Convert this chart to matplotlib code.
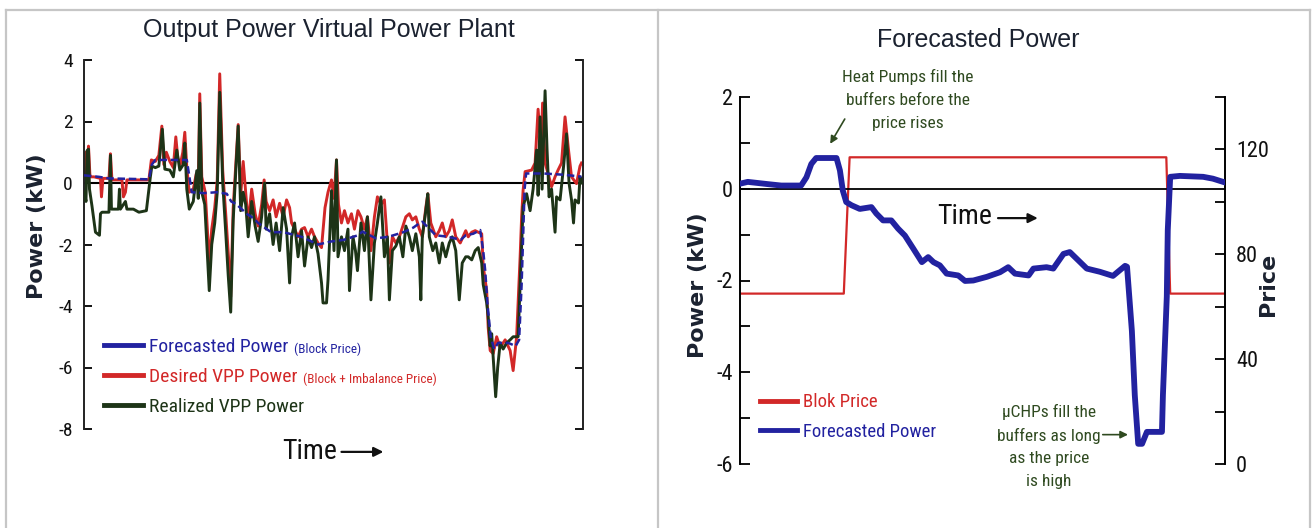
import matplotlib
matplotlib.use("Agg")
import matplotlib.pyplot as plt
from matplotlib import font_manager
from matplotlib.lines import Line2D


def pick_font(*names):
    installed = {f.name for f in font_manager.fontManager.ttflist}
    for name in names:
        if name in installed:
            return name
    return "DejaVu Sans"


NARROW = pick_font("Liberation Sans Narrow", "Roboto Condensed", "Liberation Sans")
SANS = pick_font("Liberation Sans", "Arial")
WIDE = "DejaVu Sans"

plt.rcParams["axes.unicode_minus"] = False

# --- VPP output (left panel), time in % of the horizon, power in kW ---
fc_t = [0.0, 3.0, 5.0, 13.0, 13.6, 14.3, 20.6, 21.6, 24.0, 26.6,
        28.6, 29.5, 30.6, 31.6, 32.6, 34.0, 34.9, 37.5, 40.0, 43.6,
        46.9, 49.6, 52.0, 54.9, 55.8, 58.5, 61.0, 64.0, 66.0, 67.2,
        67.8, 70.5, 73.0, 75.5, 76.5, 78.0, 79.4, 80.0, 80.4, 80.9,
        81.5, 82.2, 83.0, 85.0, 86.5, 87.2, 87.7, 88.0, 88.3, 88.6,
        92.0, 96.0, 99.0, 99.7]
fc_kw = [0.25, 0.2, 0.15, 0.12, 0.6, 0.75, 0.75, -0.3, -0.33, -0.3,
         -0.35, -0.6, -0.7, -0.85, -1.0, -1.15, -1.3, -1.6, -1.6, -1.75,
         -2.0, -1.9, -1.85, -1.7, -1.58, -1.8, -1.75, -1.6, -1.45, -1.31,
         -1.26, -1.7, -1.75, -1.85, -1.7, -1.65, -1.53, -2.2, -2.85, -4.0,
         -5.0, -5.4, -5.2, -5.2, -5.3, -5.1, -3.3, -1.75, -0.2, 0.31,
         0.31, 0.27, 0.22, 0.2]

desired_t = [0.1, 0.4, 0.7, 0.9, 1.2, 2.0, 3.3, 3.5, 3.8, 5.0,
             5.3, 5.6, 7.6, 7.9, 8.3, 8.6, 13.0, 13.5, 14.3, 15.0,
             15.6, 16.0, 16.5, 17.2, 17.9, 18.4, 18.8, 19.3, 19.8, 20.2,
             20.6, 21.1, 21.9, 22.5, 22.9, 23.2, 23.6, 24.3, 25.1, 25.6,
             26.2, 26.7, 27.2, 27.8, 28.4, 29.0, 29.4, 29.9, 30.9, 31.4,
             31.9, 32.4, 32.9, 33.6, 34.3, 34.9, 35.6, 36.1, 36.5, 37.2,
             37.9, 38.5, 39.2, 39.9, 40.6, 41.2, 41.6, 42.2, 42.9, 43.6,
             44.2, 44.9, 45.6, 46.2, 46.9, 47.6, 48.3, 48.9, 49.6, 50.1,
             50.6, 51.0, 51.6, 52.2, 52.9, 53.6, 54.2, 54.9, 55.5, 56.2,
             56.8, 57.5, 58.2, 58.8, 59.5, 60.2, 60.8, 61.2, 61.8, 62.5,
             63.2, 64.5, 65.2, 65.8, 66.5, 67.2, 67.8, 68.5, 68.9, 69.5,
             70.5, 71.2, 71.8, 72.5, 73.2, 73.8, 74.5, 75.4, 76.5, 77.0,
             77.7, 78.4, 79.0, 79.7, 80.0, 80.7, 81.0, 81.4, 82.0, 82.7,
             83.4, 84.4, 85.4, 86.0, 86.7, 87.4, 87.7, 88.0, 88.4, 89.7,
             90.4, 91.0, 91.6, 91.9, 92.4, 93.0, 93.7, 94.4, 95.0, 95.7,
             96.4, 97.1, 97.7, 98.7, 99.4, 99.7]
desired_kw = [0.3, 1.0, 0.6, 1.2, 0.2, 0.2, 0.15, -0.45, 0.15, 0.15,
              0.95, 0.1, 0.1, -0.45, -0.3, 0.1, 0.1, 0.75, 0.7, 0.9,
              1.85, 0.6, 1.0, 0.7, 0.5, 1.5, 0.8, 0.6, 1.0, 1.65,
              0.5, -0.3, -0.2, 0.3, 0.0, 2.9, 0.2, -0.3, -2.6, -1.5,
              -0.8, 0.1, 3.55, 0.4, -1.0, -2.5, -3.7, -0.8, 1.9, -0.4,
              0.7, -0.3, -1.3, -0.2, -1.0, -1.4, -0.7, 0.1, -0.6, -0.9,
              -0.55, -1.1, -0.66, -1.1, -0.55, -0.8, -1.3, -1.5, -1.75, -1.5,
              -1.45, -1.75, -1.5, -1.75, -1.95, -2.1, -0.8, -0.3, 0.1, -0.5,
              0.75, -0.7, -1.3, -0.9, -1.3, -1.0, -1.5, -0.9, -1.1, -1.5,
              -1.1, -2.2, -1.1, -0.45, -0.7, -0.55, -1.95, -2.6, -1.75, -1.95,
              -1.75, -1.1, -1.0, -1.2, -1.1, -1.5, -1.75, -0.8, -0.35, -1.3,
              -1.75, -1.55, -1.3, -1.75, -1.55, -1.2, -1.75, -1.95, -1.55, -1.75,
              -1.6, -1.55, -1.6, -1.65, -2.7, -3.5, -4.7, -5.45, -5.55, -5.0,
              -5.35, -5.1, -5.45, -6.1, -5.0, -2.4, -1.1, -0.23, 0.37, 0.42,
              0.65, 2.4, 1.1, 2.6, 0.65, 0.31, -0.12, 0.2, 0.42, 0.65,
              2.15, 1.07, 0.2, -0.02, 0.55, 0.65]

realized_t = [0.1, 0.4, 0.6, 0.9, 1.1, 1.6, 2.3, 3.1, 3.3, 3.6,
              5.0, 5.3, 5.5, 6.9, 7.1, 7.3, 8.3, 8.6, 9.9, 11.0,
              12.5, 13.3, 13.6, 14.3, 15.0, 15.7, 16.2, 17.2, 17.9, 18.6,
              19.2, 19.9, 20.2, 20.6, 21.1, 21.9, 22.6, 22.9, 23.2, 23.6,
              24.2, 25.1, 25.6, 26.2, 26.7, 27.2, 27.8, 28.4, 28.9, 29.4,
              29.9, 30.9, 31.4, 31.9, 32.4, 32.9, 33.6, 34.3, 34.9, 35.6,
              36.2, 36.5, 37.2, 37.9, 38.5, 39.2, 39.9, 40.6, 41.2, 41.6,
              42.2, 42.9, 43.6, 44.2, 44.9, 45.6, 46.2, 46.9, 47.6, 47.9,
              48.6, 48.9, 49.2, 49.6, 50.1, 50.6, 50.9, 51.6, 52.2, 52.9,
              53.2, 53.9, 54.4, 54.8, 55.5, 56.2, 56.8, 57.5, 58.2, 58.8,
              59.5, 60.2, 60.8, 61.2, 61.8, 62.5, 63.2, 63.9, 64.5, 65.2,
              65.8, 66.5, 67.2, 67.5, 67.8, 68.5, 68.9, 69.2, 69.9, 70.5,
              71.2, 71.8, 72.5, 73.2, 73.8, 74.5, 75.2, 75.8, 76.5, 77.0,
              77.7, 78.4, 79.0, 79.7, 80.0, 80.7, 81.0, 81.4, 81.7, 82.2,
              82.5, 82.9, 83.4, 84.0, 84.7, 85.4, 86.0, 87.0, 87.4, 88.0,
              88.7, 89.4, 90.0, 90.7, 91.0, 91.4, 91.8, 92.4, 92.8, 93.2,
              93.7, 94.4, 94.7, 95.4, 96.1, 96.7, 97.2, 97.7, 98.1, 98.4,
              99.1, 99.4, 99.7]
realized_kw = [-0.3, -0.6, 1.05, 1.1, -0.2, -0.75, -1.6, -1.7, -1.0, -0.95,
               -0.95, 0.9, -0.85, -0.85, -0.2, -0.85, -0.6, -0.85, -0.85, -0.95,
               -0.9, 0.2, 0.55, 0.5, 0.55, 1.75, 0.45, 0.42, 0.2, 1.07,
               0.42, 0.6, 1.3, -0.2, -0.85, -0.6, 0.4, -0.5, 2.6, -0.3,
               -0.7, -3.5, -2.0, -1.3, -0.3, 2.95, 0.0, -1.6, -3.0, -4.2,
               -1.2, 1.85, -0.9, -0.3, -0.7, -1.75, -0.6, -1.4, -1.9, -1.1,
               0.0, -1.5, -1.0, -2.0, -1.3, -2.2, -0.8, -1.5, -3.25, -1.75,
               -1.3, -2.4, -1.55, -2.7, -1.75, -2.1, -1.75, -2.3, -3.25, -3.9,
               -3.9, -3.15, -1.95, -0.25, -2.2, 0.75, -2.4, -1.75, -2.2, -1.5,
               -3.5, -1.75, -2.2, -2.85, -1.3, -2.2, -1.1, -3.8, -1.95, -1.3,
               -0.45, -2.4, -1.75, -3.8, -2.2, -2.05, -1.75, -2.4, -1.4, -1.75,
               -2.2, -1.65, -2.4, -3.8, -1.75, -0.9, -0.35, -1.75, -2.2, -1.95,
               -2.6, -1.95, -2.4, -1.95, -1.75, -2.2, -3.8, -2.6, -2.4, -2.4,
               -2.5, -2.2, -2.1, -2.6, -3.3, -3.9, -4.35, -5.3, -4.9, -6.2,
               -6.95, -6.0, -5.2, -5.4, -5.2, -5.1, -5.0, -5.0, -3.3, -0.77,
               -0.35, -0.9, -0.2, 1.07, -0.4, 2.15, -0.2, 3.0, 1.07, -0.45,
               -0.2, -1.6, -0.45, -0.55, 0.53, 1.6, 0.0, -0.55, -1.3, -0.55,
               -0.65, 0.2, 0.0]

left_labels = ["Forecasted Power", "Desired VPP Power", "Realized VPP Power"]
left_notes = ["(Block Price)", "(Block + Imbalance Price)", ""]

# --- forecast vs. block price (right panel) ---
rp_t = [0.0, 1.6, 5.8, 8.5, 12.6, 13.7, 14.7, 15.7, 19.9, 20.6,
        21.2, 21.9, 23.0, 24.7, 27.1, 28.1, 29.5, 31.2, 32.6, 34.0,
        35.7, 37.5, 38.8, 39.9, 41.2, 42.6, 45.0, 46.4, 48.1, 50.9,
        53.6, 55.3, 56.7, 59.5, 60.5, 63.2, 64.6, 66.7, 68.0, 71.5,
        74.2, 76.9, 79.4, 79.8, 80.8, 81.4, 82.1, 82.9, 83.9, 87.0,
        87.2, 88.0, 88.2, 88.7, 90.7, 95.5, 97.5, 99.6]
rp_kw = [0.11, 0.15, 0.1, 0.07, 0.07, 0.25, 0.54, 0.67, 0.67, 0.4,
         -0.04, -0.29, -0.36, -0.44, -0.4, -0.54, -0.69, -0.69, -0.87, -1.02,
         -1.3, -1.6, -1.49, -1.6, -1.67, -1.85, -1.89, -2.01, -2.0, -1.92,
         -1.82, -1.71, -1.85, -1.89, -1.74, -1.71, -1.74, -1.42, -1.38, -1.74,
         -1.81, -1.9, -1.68, -1.7, -3.1, -4.5, -5.56, -5.56, -5.3, -5.3,
         -4.5, -2.35, -0.9, 0.26, 0.28, 0.26, 0.22, 0.15]

price_t = [0.0, 21.4, 22.6, 87.9, 88.7, 100.0]
price = [65, 65, 117, 117, 65, 65]

right_labels = ["Blok Price", "Forecasted Power"]

BLUE = "#2222a0"
RED = "#d22828"
GREEN = "#1d3417"
NOTE = "#2f4a20"
INK = "#1b2230"

W, H = 1314, 528
fig = plt.figure(figsize=(W / 100, H / 100), dpi=100)

# page frame around the two panels
for x in (6, 658, 1310):
    fig.add_artist(Line2D([x / W, x / W], [0, 1 - 10 / H], transform=fig.transFigure,
                          color="#c6c6c6", lw=1.6))
fig.add_artist(Line2D([6 / W, 1310 / W], [1 - 10 / H, 1 - 10 / H],
                      transform=fig.transFigure, color="#c6c6c6", lw=1.6))

# ---------------- left panel ----------------
ax1 = fig.add_axes([84 / W, 1 - 429 / H, 499 / W, 369 / H])
ax1.set_xlim(0, 100)
ax1.set_ylim(-8, 4)
ax1.axhline(0, color="black", lw=1.5, zorder=1)
ax1.plot(desired_t, desired_kw, color=RED, lw=2.1, zorder=2)
ax1.plot(realized_t, realized_kw, color=GREEN, lw=2.1, zorder=3)
ax1.plot(fc_t, fc_kw, color=BLUE, lw=1.8, ls=(0, (3, 1.5)), zorder=4)

for side in ("top", "bottom"):
    ax1.spines[side].set_visible(False)
for side in ("left", "right"):
    ax1.spines[side].set_linewidth(1.4)
    ax1.spines[side].set_color("#222222")
ax1.set_xticks([])
ax1.set_yticks([-8, -6, -4, -2, 0, 2, 4])
ax1.tick_params(axis="y", direction="in", length=6, width=1.3, left=True, right=True,
                labelsize=14, pad=8, labelcolor="#111111", labelfontfamily=NARROW)

ax1.set_ylabel("Power (kW)", fontsize=16, fontweight="bold", color=INK, family=WIDE)
ax1.yaxis.set_label_coords(-0.074, 0.55)
ax1.text(0.491, 1.081, "Output Power Virtual Power Plant", transform=ax1.transAxes,
         ha="center", va="center", fontsize=18, color=INK, family=SANS)

ax1.text(0.397, -0.062, "Time", transform=ax1.transAxes, ha="left", va="center",
         fontsize=20, family=NARROW, color="#111111")
ax1.annotate("", xy=(0.600, -0.062), xytext=(0.516, -0.062), xycoords="axes fraction",
             arrowprops=dict(arrowstyle="-|>", color="#111111", lw=1.6,
                             mutation_scale=14, shrinkA=0, shrinkB=0))

left_colors = [BLUE, RED, GREEN]
handles = [Line2D([], [], color=c, lw=3.5) for c in left_colors]
leg1 = ax1.legend(handles, left_labels, loc="center left", bbox_to_anchor=(0.04, 0.141),
                  frameon=False, prop={"family": NARROW, "size": 14}, handlelength=2.0,
                  handletextpad=0.3, labelspacing=0.62, borderpad=0, borderaxespad=0)
for txt, c in zip(leg1.get_texts(), left_colors):
    txt.set_color(c)

# ---------------- right panel ----------------
ax2 = fig.add_axes([740 / W, 1 - 464 / H, 485 / W, 367 / H])
ax3 = ax2.twinx()
ax2.set_zorder(ax3.get_zorder() + 1)
ax2.patch.set_visible(False)

ax2.set_xlim(0, 100)
ax2.set_ylim(-6, 2)
ax3.set_ylim(0, 140)

ax3.plot(price_t, price, color=RED, lw=1.6)
ax2.axhline(0, color="black", lw=1.3, zorder=1)
ax2.plot(rp_t, rp_kw, color=BLUE, lw=4.2, solid_joinstyle="round", zorder=3)

for side in ("top", "bottom", "right"):
    ax2.spines[side].set_visible(False)
for side in ("top", "bottom", "left"):
    ax3.spines[side].set_visible(False)
ax2.spines["left"].set_linewidth(1.4)
ax3.spines["right"].set_linewidth(1.4)
ax2.set_xticks([])
ax2.set_yticks(range(-6, 3), labels=[str(v) if v % 2 == 0 else "" for v in range(-6, 3)])
ax3.set_yticks(range(0, 141, 20), labels=[str(v) if v % 40 == 0 else "" for v in range(0, 141, 20)])
ax2.tick_params(axis="y", direction="in", length=7, width=1.3, pad=5,
                labelsize=16, labelcolor="#111111", labelfontfamily=NARROW)
ax3.tick_params(axis="y", direction="in", length=7, width=1.3, pad=8,
                labelsize=16, labelcolor="#111111", labelfontfamily=NARROW)

ax2.set_ylabel("Power (kW)", fontsize=16, fontweight="bold", color=INK, family=WIDE)
ax2.yaxis.set_label_coords(-0.066, 0.488)
ax3.set_ylabel("Price", fontsize=16, fontweight="bold", color=INK, family=WIDE)
ax3.yaxis.set_label_coords(1.068, 0.49)

ax2.text(0.491, 1.155, "Forecasted Power", transform=ax2.transAxes,
         ha="center", va="center", fontsize=18, color=INK, family=SANS)

ax2.text(40.6, -0.6, "Time", ha="left", va="center", fontsize=20, family=NARROW,
         color="#111111")
ax2.annotate("", xy=(61.4, -0.64), xytext=(53.2, -0.64),
             arrowprops=dict(arrowstyle="-|>", color="#111111", lw=1.6,
                             mutation_scale=14, shrinkA=0, shrinkB=0))

ax2.text(34.6, 1.94, "Heat Pumps fill the\nbuffers before the\nprice rises", ha="center",
         va="center", fontsize=12.5, family=NARROW, color=NOTE, linespacing=1.65)
ax2.annotate("", xy=(18.6, 0.98), xytext=(21.6, 1.52),
             arrowprops=dict(arrowstyle="-|>", color=NOTE, lw=1.2,
                             mutation_scale=11, shrinkA=0, shrinkB=0))
ax2.text(63.7, -5.62, "\u00b5CHPs fill the\nbuffers as long\nas the price\nis high", ha="center",
         va="center", fontsize=12.5, family=NARROW, color=NOTE, linespacing=1.6)
ax2.annotate("", xy=(80.0, -5.36), xytext=(74.8, -5.36),
             arrowprops=dict(arrowstyle="-|>", color=NOTE, lw=1.2,
                             mutation_scale=11, shrinkA=0, shrinkB=0))

right_colors = [RED, BLUE]
handles = [Line2D([], [], color=c, lw=3.5) for c in right_colors]
leg2 = ax2.legend(handles, right_labels, loc="center left", bbox_to_anchor=(0.041, 0.128),
                  frameon=False, prop={"family": NARROW, "size": 13.5}, handlelength=2.0,
                  handletextpad=0.3, labelspacing=0.62, borderpad=0, borderaxespad=0)
for txt, c in zip(leg2.get_texts(), right_colors):
    txt.set_color(c)

# small price notes next to the left legend entries
fig.canvas.draw()
for txt, note, c in zip(leg1.get_texts(), left_notes, left_colors):
    if not note:
        continue
    bb = txt.get_window_extent()
    fig.text((bb.x1 + 6) / W, ((bb.y0 + bb.y1) / 2 - 2) / H, note, ha="left", va="center",
             fontsize=9.5, family=NARROW, color=c)

fig.savefig("out.png", dpi=100)
